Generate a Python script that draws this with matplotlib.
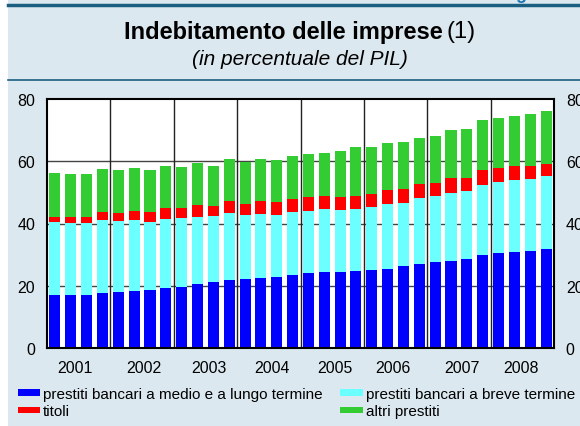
import numpy as np
import matplotlib
matplotlib.use('Agg')
from matplotlib import pyplot as plt
from matplotlib.patches import Rectangle

plt.rcParams['font.family'] = ['Liberation Sans', 'DejaVu Sans']

### dati (in percentuale del PIL), trimestrali 2001-2008
anni = ['2001', '2002', '2003', '2004', '2005', '2006', '2007', '2008']
medio_lungo = [17.1, 17.1, 17.1, 17.8, 18.1, 18.4, 18.7, 19.4,
               19.7, 20.6, 21.3, 21.9, 22.2, 22.6, 22.9, 23.5,
               24.2, 24.5, 24.5, 24.8, 25.1, 25.5, 26.4, 27.1,
               27.7, 28.0, 28.7, 29.9, 30.6, 30.9, 31.2, 31.9]
breve = [23.3, 23.1, 23.1, 23.4, 22.8, 22.8, 21.8, 22.1,
         22.1, 21.5, 21.2, 21.5, 20.6, 20.5, 19.9, 20.2,
         19.9, 20.2, 19.9, 19.9, 20.2, 20.8, 20.2, 21.1,
         21.2, 21.8, 21.8, 22.5, 22.8, 23.1, 23.1, 23.4]
titoli = [1.8, 2.0, 2.0, 2.5, 2.5, 2.9, 3.2, 3.5,
          3.2, 3.9, 3.2, 3.9, 3.5, 4.2, 4.2, 4.2,
          4.5, 4.2, 4.2, 4.2, 4.2, 4.5, 4.5, 4.5,
          4.1, 4.9, 4.2, 4.8, 4.5, 4.5, 4.2, 3.8]
altri = [14.1, 13.7, 13.7, 13.8, 13.8, 13.8, 13.5, 13.5,
         13.2, 13.5, 12.8, 13.4, 13.5, 13.4, 13.4, 13.8,
         13.8, 13.8, 14.7, 15.7, 15.1, 15.1, 15.1, 14.8,
         15.1, 15.4, 15.7, 16.1, 16.0, 16.0, 16.7, 17.0]
etichette = ['prestiti bancari a medio e a lungo termine',
             'prestiti bancari a breve termine',
             'titoli', 'altri prestiti']
colori = ['#0000ff', '#6bffff', '#ff0000', '#33cc33']

sfondo = '#dce8ef'
fig = plt.figure(figsize=(5.8, 4.27), dpi=100, facecolor=sfondo)
fig.patches.append(Rectangle((0, 0), 8/580, 1, transform=fig.transFigure,
                             facecolor='white', edgecolor='none', zorder=0))
fig.add_artist(plt.Line2D([8/580, 1], [1 - 6/427]*2, color='#1b5f80', lw=2.5))
fig.add_artist(plt.Line2D([8/580, 1], [1 - 81/427]*2, color='#1b5f80', lw=1.2))
fig.text(0.958, 1 + 1/427, 'Figura', color='#1f78b4', fontsize=13,
         fontweight='bold', ha='right', va='baseline')

fig.text(443/580, 1 - 32/427, 'Indebitamento delle imprese', fontsize=17,
         fontweight='bold', ha='right', va='center')
fig.text(447/580, 1 - 32/427, '(1)', fontsize=17, ha='left', va='center')
fig.text(300/580, 1 - 60/427, '(in percentuale del PIL)', fontsize=15,
         style='italic', ha='center', va='center')

ax = fig.add_axes([47/580, 1 - 349/427, 507/580, 249/427])
ax.set_zorder(2)
x = np.arange(len(medio_lungo))
serie = [medio_lungo, breve, titoli, altri]
base = np.zeros(len(x))
barre = []
for s, c, lab in zip(serie, colori, etichette):
    barre.append(ax.bar(x, s, 0.7, bottom=base, color=c, label=lab, zorder=3))
    base = base + np.array(s)

ax.set_xlim(-0.5, len(x) - 0.5)
ax.set_ylim(0, 80)
ax.set_yticks([0, 20, 40, 60, 80])
for y in [20, 40, 60]:
    ax.axhline(y, color='#444444', lw=1, zorder=1)
for k in range(1, len(anni)):
    ax.axvline(4*k - 0.5, color='#222222', lw=1, zorder=4)
pos_anni = [1.24, 5.62, 9.73, 13.7, 17.7, 21.34, 25.7, 29.4]
ax.set_xticks(pos_anni)
ax.set_xticklabels(anni, fontsize=11.4)
ax.tick_params(axis='x', length=0, pad=9)
ax.tick_params(axis='y', length=0, labelsize=11.5, labelright=True, pad=8.5)
for sp in ax.spines.values():
    sp.set_linewidth(1.5)
    sp.set_zorder(5)

# ordine della legenda: riga 1 medio/lungo, breve; riga 2 titoli, altri
ordine = [0, 2, 1, 3]
leg = fig.legend([barre[i] for i in ordine], [etichette[i] for i in ordine],
                 loc='upper left', bbox_to_anchor=(18/580, 1 - 388/427), ncol=2,
                 frameon=False, fontsize=11, handlelength=1.45,
                 handleheight=0.3, handletextpad=0.2, columnspacing=1.15,
                 labelspacing=0.22, borderpad=0, borderaxespad=0)

fig.savefig('out.png', dpi=100, facecolor=fig.get_facecolor())
